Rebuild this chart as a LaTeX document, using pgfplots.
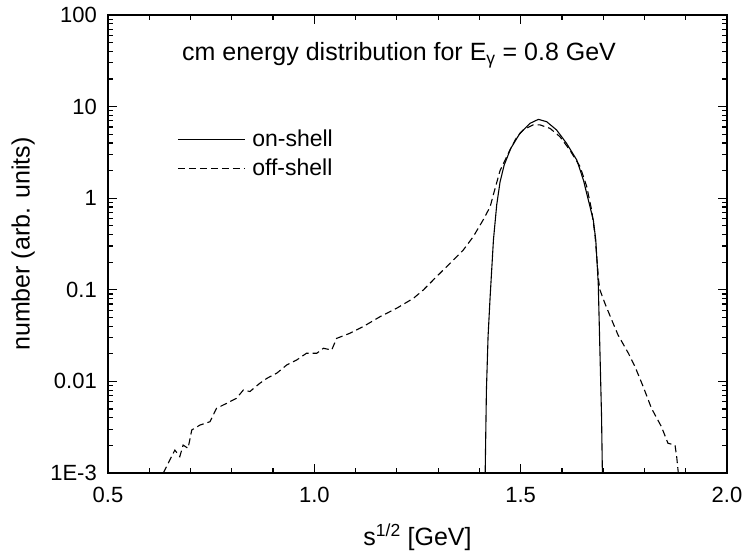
\documentclass[border=0pt]{standalone}
\usepackage{fontspec}
\setmainfont{Liberation Sans}
\usepackage{pgfplots}
\pgfplotsset{compat=1.18}

\begin{document}
\begin{tikzpicture}
\begin{axis}[
    scale only axis,
    width=619pt, height=458pt,
    xmin=0.5, xmax=2.0,
    ymode=log, ymin=1e-3, ymax=100,
    xtick={0.5,1.0,1.5,2.0},
    xticklabels={0.5,1.0,1.5,2.0},
    minor xtick={0.6,0.7,0.8,0.9,1.1,1.2,1.3,1.4,1.6,1.7,1.8,1.9},
    ytick={1e-3,0.01,0.1,1,10,100},
    yticklabels={1E-3,0.01,0.1,1,10,100},
    minor ytick={2e-3,3e-3,4e-3,5e-3,6e-3,7e-3,8e-3,9e-3,
                 0.02,0.03,0.04,0.05,0.06,0.07,0.08,0.09,
                 0.2,0.3,0.4,0.5,0.6,0.7,0.8,0.9,
                 2,3,4,5,6,7,8,9,20,30,40,50,60,70,80,90},
    tick align=inside,
    xtick pos=both, ytick pos=both,
    major tick length=9pt, minor tick length=5pt,
    every tick/.style={black, line width=1.2pt},
    axis line style={line width=1.6pt},
    tick label style={font=\fontsize{22}{26}\selectfont, inner sep=0pt},
    xticklabel style={anchor=north, yshift=-14pt},
    yticklabel style={anchor=east, xshift=-11pt},
    xlabel={s\textsuperscript{1/2} [GeV]},
    ylabel={number (arb. units)},
    label style={font=\fontsize{25}{29}\selectfont, inner sep=0pt},
    xlabel style={at={(axis description cs:0.5,-0.159)}, anchor=base},
    ylabel style={at={(axis description cs:-0.137,0.5)}, anchor=center},
    legend style={at={(axis description cs:0.1115,0.749)}, anchor=north west,
        draw=none, fill=none, inner sep=0pt, row sep=11pt, column sep=7pt,
        font=\fontsize{23}{27}\selectfont,
        nodes={inner sep=0pt}},
    legend cell align=left,
    legend image code/.code={\draw[#1] (0pt,0pt) -- (67pt,0pt);},
]
\addplot[black, line width=1.1pt] coordinates {
(1.414,0.00100) (1.417,0.008) (1.421,0.031) (1.426,0.084) (1.434,0.35)
(1.442,0.85) (1.450,1.5) (1.460,2.3) (1.476,3.5) (1.498,5.1)
(1.523,6.58) (1.543,7.26) (1.563,6.84) (1.587,5.56) (1.611,3.98)
(1.636,2.61) (1.652,1.58) (1.668,0.807) (1.676,0.578) (1.682,0.35)
(1.688,0.117) (1.692,0.0219) (1.696,0.00412) (1.698,0.00100)
};
\addlegendentry{on-shell}
\addplot[black, line width=1.1pt, dash pattern=on 7pt off 4pt] coordinates {
(0.634,0.00100) (0.650,0.00139) (0.662,0.00178) (0.674,0.00151) (0.682,0.00202)
(0.694,0.00186) (0.703,0.00295) (0.723,0.00334) (0.747,0.00363) (0.763,0.00508)
(0.787,0.00575) (0.811,0.00653) (0.828,0.00805) (0.844,0.00776) (0.868,0.00955)
(0.885,0.0108) (0.909,0.0123) (0.933,0.0151) (0.957,0.0171) (0.981,0.0203)
(1.006,0.0203) (1.022,0.0230) (1.042,0.0220) (1.054,0.0295) (1.086,0.0335)
(1.119,0.0398) (1.159,0.0508) (1.200,0.0631) (1.240,0.0807) (1.264,0.0995)
(1.296,0.139) (1.329,0.195) (1.361,0.272) (1.385,0.380) (1.409,0.578)
(1.426,0.807) (1.434,1.10) (1.450,2.0) (1.474,3.36) (1.490,4.6)
(1.506,5.56) (1.530,6.31) (1.547,6.31) (1.571,5.79) (1.595,4.70)
(1.619,3.36) (1.644,2.21) (1.660,1.34) (1.672,0.741) (1.680,0.40)
(1.689,0.126) (1.692,0.100) (1.704,0.0713) (1.724,0.0431) (1.736,0.0321)
(1.761,0.0203) (1.777,0.0145) (1.797,0.00875) (1.817,0.00508) (1.841,0.00321)
(1.857,0.00211) (1.874,0.00202) (1.878,0.00151) (1.882,0.00100)
};
\addlegendentry{off-shell}
\node[anchor=base west, inner sep=0pt, font=\fontsize{25}{29}\selectfont]
    at (axis description cs:0.1195,0.8996)
    {cm energy distribution for E\textsubscript{γ} = 0.8 GeV};
\end{axis}
\pgfresetboundingbox
\path (-108pt,-78pt) rectangle (635pt,473pt);
\end{tikzpicture}
\end{document}
